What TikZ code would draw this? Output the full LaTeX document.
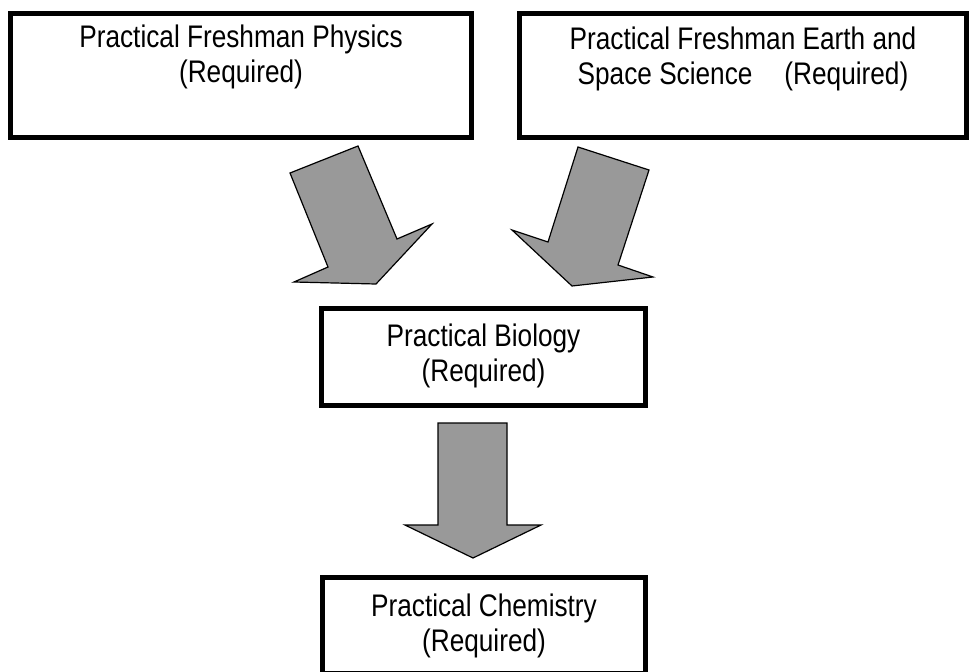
\documentclass[tikz,border=0pt]{standalone}
\usepackage{fontspec}
\setmainfont{Liberation Sans}[FakeStretch=0.84]
\usepackage{xcolor}
\definecolor{arrowgrey}{HTML}{999999}
\tikzset{
  course/.style={rectangle, draw=black, line width=3.75pt, fill=white,
    inner xsep=0pt, inner ysep=0pt, anchor=north, align=center,
    font=\fontsize{23.4pt}{25.9pt}\selectfont},
  fatarrow/.style={draw=black, line width=0.9pt, fill=arrowgrey, line join=miter},
}

\begin{document}
\begin{tikzpicture}[x=0.75pt, y=-0.75pt]
\useasboundingbox (0,0) rectangle (969,671);
\clip (0,0) rectangle (969,671);
\node[course, minimum width=345.75pt, text height=51.8pt, text depth=41.2pt] (phys) at (241,10.5)
  {Practical Freshman Physics\\(Required)};
\node[course, minimum width=335.25pt, text height=53.3pt, text depth=39.7pt] (earth) at (743,10.5)
  {Practical Freshman Earth and\\Space Science\hspace{24pt}(Required)};
\node[course, minimum width=243pt, text height=54.8pt, text depth=18pt] (bio) at (483.5,305.5)
  {Practical Biology\\(Required)};
\node[course, minimum width=242.25pt, text height=55.5pt, text depth=17.2pt] (chem) at (484,574.5)
  {Practical Chemistry\\(Required)};
% block arrows
\draw[fatarrow] (290,173) -- (358,146) -- (397,239) -- (432,224) -- (376,284) -- (294,282) -- (328,267) -- cycle;
\draw[fatarrow] (578,147) -- (649,170) -- (618,265) -- (653,277) -- (572,286) -- (512,230) -- (548,242) -- cycle;
\draw[fatarrow] (438,423) -- (507,423) -- (507,525) -- (541,525) -- (473,558) -- (405,525) -- (438,525) -- cycle;
\end{tikzpicture}
\end{document}
